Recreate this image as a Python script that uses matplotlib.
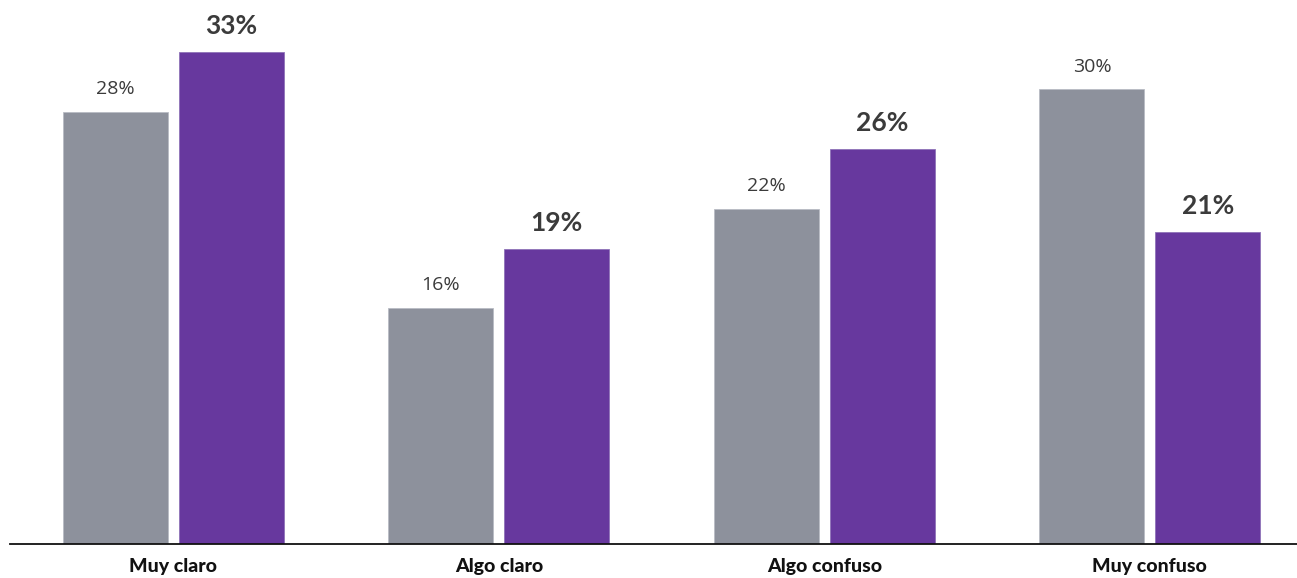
import matplotlib.pyplot as plt
import numpy as np

plt.rcParams['font.family'] = ['Lato', 'DejaVu Sans']

categories = ['Muy claro', 'Algo claro', 'Algo confuso', 'Muy confuso']
gray_values = [28.5, 15.6, 22.1, 30.0]
purple_values = [32.5, 19.5, 26.1, 20.6]
gray_labels = ['28%', '16%', '22%', '30%']
purple_labels = ['33%', '19%', '26%', '21%']

gray_color = '#8d919c'
purple_color = '#67389e'
text_color = '#3b3b3b'

fig = plt.figure(figsize=(12.97, 5.78), dpi=100)
ax = fig.add_axes([10 / 1297, 34 / 578, 1287 / 1297, 544 / 578])

x = np.arange(len(categories))
width = 0.3226
off = 0.178

ax.bar(x - off, gray_values, width, color=gray_color, edgecolor='#b9bcc4', linewidth=0.6)
ax.bar(x + off, purple_values, width, color=purple_color, edgecolor='#8f73b8', linewidth=0.6)

# gray labels: lighter sans
for xi, v, lab in zip(x, gray_values, gray_labels):
    ax.annotate(lab, (xi - off, v), xytext=(0, 10), textcoords='offset points',
                ha='center', va='bottom', fontsize=14, color=text_color,
                family=['Open Sans', 'DejaVu Sans'])
for xi, v, lab in zip(x, purple_values, purple_labels):
    ax.annotate(lab, (xi + off, v), xytext=(0, 10), textcoords='offset points',
                ha='center', va='bottom', fontsize=19, fontweight='bold', color=text_color)

ax.set_xlim(-0.502, 3.452)
ax.set_ylim(0, 35.9)
ax.set_xticks(x)
ax.set_xticklabels(categories, fontsize=14, fontweight='black', color='#111111')
ax.tick_params(axis='x', length=0, pad=10)
ax.set_yticks([])
for s in ['top', 'right', 'left']:
    ax.spines[s].set_visible(False)
ax.spines['bottom'].set_linewidth(1.3)
ax.spines['bottom'].set_color('#111111')

fig.savefig('out.png', dpi=100, facecolor='white')
